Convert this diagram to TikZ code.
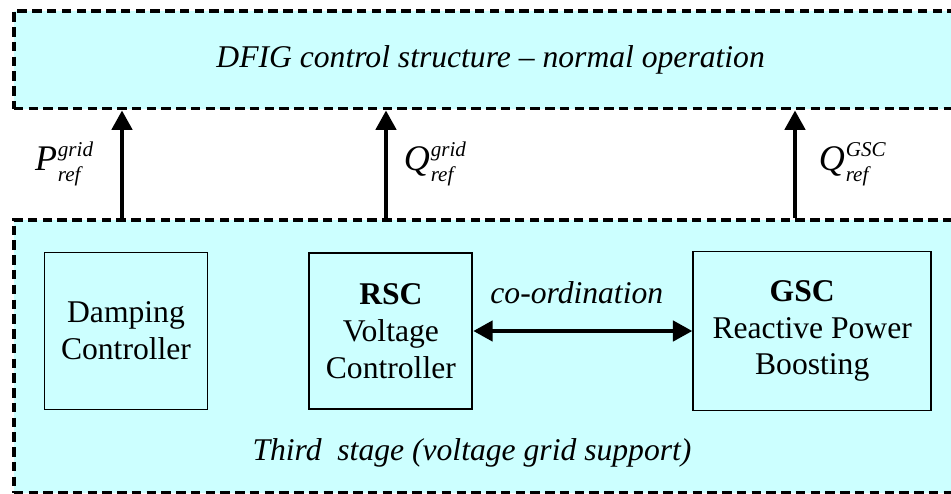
\documentclass[tikz,border=0pt]{standalone}
\usepackage{fontspec}
\setmainfont{Liberation Serif}
\usepackage{xcolor}
\usetikzlibrary{arrows.meta, positioning}
\definecolor{stagefill}{RGB}{204,255,255}
% reference signal: letter, superscript, subscript "ref"
\newcommand{\refsig}[2]{\textit{#1}{\fontsize{12}{14}\selectfont\itshape\kern0.5pt\raisebox{-6.2pt}{\rlap{ref}}\raisebox{8pt}{#2}}}

\begin{document}
\begin{tikzpicture}[
  x=0.02cm, y=-0.02cm,
  font=\fontsize{18}{21}\selectfont,
  region/.style={draw, fill=stagefill, line width=2pt, dash pattern=on 5.4pt off 3pt, inner sep=0},
  ctrl/.style={draw, fill=stagefill, line width=1.1pt, align=center, inner sep=0},
  sig/.style={-{Triangle[length=11pt, width=11.5pt]}, line width=2.2pt},
  coord/.style={{Triangle[length=11pt, width=11.5pt]}-{Triangle[length=11pt, width=11.5pt]}, line width=2.2pt},
  lbl/.style={font=\fontsize{20.5}{24}\selectfont, inner sep=0},
]

\useasboundingbox (0,0) rectangle (951,494);
\clip (0,0) rectangle (951,494);

% Stages
\node[region, anchor=north west, minimum width=19.08cm, minimum height=1.96cm] (normal) at (12,9) {\textit{DFIG control structure -- normal operation}};
\node[region, anchor=north west, minimum width=19.5cm, minimum height=5.46cm] (stage) at (12,218) {};
\node (stagelbl) at (472,453) {\textit{Third~~stage (voltage grid support)}};

% Controllers
\node[ctrl, minimum width=3.26cm, minimum height=3.14cm] (damp) at (126,331) {Damping\\Controller};
\node[ctrl, minimum width=3.26cm, minimum height=3.12cm, right=2cm of damp] (rsc) {\textbf{RSC}\\Voltage\\Controller};
\node[ctrl, minimum width=4.76cm, minimum height=3.18cm, right=4.38cm of rsc] (gsc) {\textbf{GSC}\hspace*{0.4cm}\\Reactive Power\\Boosting};

% Co-ordination
\draw[coord] (rsc) -- (gsc) node[midway, above=0.5cm, inner sep=0, xshift=-0.12cm] (coordlbl) {\textit{co-ordination}};

% References to the normal control
\coordinate (pout) at (122,218);
\coordinate (qout) at (386,218);
\coordinate (gout) at (795,218);

\draw[sig] (pout) -- (pout |- normal.south) node[midway, left=0.54cm, lbl] (pgrid) {\refsig{P}{grid}};
\draw[sig] (qout) -- (qout |- normal.south) node[midway, right=0.32cm, lbl] (qgrid) {\refsig{Q}{grid}};
\draw[sig] (gout) -- (gout |- normal.south) node[midway, right=0.44cm, lbl] (qgsc) {\refsig{Q}{GSC}};

\end{tikzpicture}
\end{document}
